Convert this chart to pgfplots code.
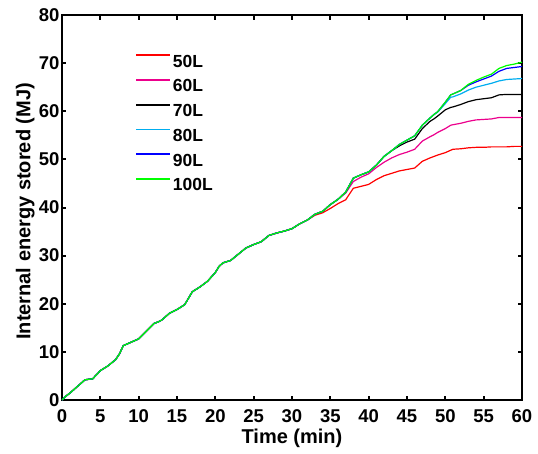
\documentclass[border=0pt]{standalone}
\usepackage{pgfplots}
\usepackage{pgfplotstable}
\pgfplotsset{compat=1.18}
\usepackage{fontspec}
\setmainfont{Liberation Sans}
\pgfplotstableread{
t r m k c b g
0 0 0 0 0 0 0
0.5 0.8 0.8 0.8 0.8 0.8 0.8
1 1.4 1.4 1.4 1.4 1.4 1.4
2 2.8 2.8 2.8 2.8 2.8 2.8
3 4.2 4.2 4.2 4.2 4.2 4.2
4 4.4 4.4 4.4 4.4 4.4 4.4
5 6.1 6.1 6.1 6.1 6.1 6.1
6 7.1 7.1 7.1 7.1 7.1 7.1
7 8.4 8.4 8.4 8.4 8.4 8.4
7.5 9.6 9.6 9.6 9.6 9.6 9.6
8 11.3 11.3 11.3 11.3 11.3 11.3
9 12.0 12.0 12.0 12.0 12.0 12.0
10 12.7 12.7 12.7 12.7 12.7 12.7
11 14.3 14.3 14.3 14.3 14.3 14.3
12 15.9 15.9 15.9 15.9 15.9 15.9
12.5 16.2 16.2 16.2 16.2 16.2 16.2
13 16.6 16.6 16.6 16.6 16.6 16.6
14 18.0 18.0 18.0 18.0 18.0 18.0
15 18.8 18.8 18.8 18.8 18.8 18.8
16 19.8 19.8 19.8 19.8 19.8 19.8
17 22.5 22.5 22.5 22.5 22.5 22.5
18 23.5 23.5 23.5 23.5 23.5 23.5
19 24.7 24.7 24.7 24.7 24.7 24.7
20 26.5 26.5 26.5 26.5 26.5 26.5
20.5 27.8 27.8 27.8 27.8 27.8 27.8
21 28.5 28.5 28.5 28.5 28.5 28.5
22 29.0 29.0 29.0 29.0 29.0 29.0
23 30.3 30.3 30.3 30.3 30.3 30.3
24 31.6 31.6 31.6 31.6 31.6 31.6
25 32.3 32.3 32.3 32.3 32.3 32.3
26 32.9 32.9 32.9 32.9 32.9 32.9
27 34.2 34.2 34.2 34.2 34.2 34.2
28 34.7 34.7 34.7 34.7 34.7 34.7
29 35.1 35.1 35.1 35.1 35.1 35.1
30 35.6 35.6 35.6 35.6 35.6 35.6
31 36.6 36.6 36.6 36.6 36.6 36.6
32 37.4 37.4 37.4 37.4 37.4 37.4
33 38.4 38.6 38.6 38.6 38.6 38.6
34 38.9 39.2 39.2 39.2 39.2 39.2
35 39.8 40.6 40.6 40.6 40.6 40.6
36 40.8 41.7 41.7 41.7 41.7 41.7
37 41.6 43.0 43.2 43.2 43.2 43.2
38 44.0 45.4 46.1 46.1 46.1 46.1
39 44.4 46.3 46.8 46.8 46.8 46.8
40 44.8 47.0 47.4 47.4 47.4 47.4
41 45.8 48.3 48.8 48.8 48.8 48.8
42 46.6 49.4 50.6 50.6 50.6 50.6
43 47.1 50.3 51.8 51.8 51.8 51.8
44 47.6 51.0 52.8 53.1 53.1 53.1
45 47.9 51.5 53.6 54.0 54.0 54.0
46 48.2 52.1 54.2 54.9 54.9 54.9
47 49.6 53.8 56.4 57.1 57.1 57.1
48 50.3 54.7 57.9 58.6 58.6 58.6
48.5 50.6 55.1 58.4 59.3 59.3 59.3
49 50.9 55.6 59.0 59.8 59.9 59.9
50 51.4 56.4 60.3 61.6 61.9 61.9
50.7 51.9 57.1 60.8 62.9 63.4 63.4
51 52.1 57.2 60.9 63.0 63.6 63.6
52 52.2 57.5 61.4 63.6 64.3 64.3
53 52.4 57.9 62.0 64.4 65.4 65.6
54 52.5 58.2 62.4 65.0 66.1 66.4
55 52.5 58.3 62.6 65.4 66.7 67.1
56 52.6 58.4 62.8 65.8 67.3 67.7
57 52.6 58.7 63.4 66.3 68.3 68.9
58 52.6 58.7 63.5 66.6 68.9 69.5
59 52.7 58.7 63.5 66.7 69.1 69.8
60 52.7 58.7 63.5 66.8 69.3 70.2
}\datatable
\begin{document}
\begin{tikzpicture}
\begin{axis}[
  scale only axis,
  width=460pt, height=385pt,
  xmin=0, xmax=60, ymin=0, ymax=80,
  xtick={0,5,...,60}, ytick={0,10,...,80},
  axis line style={line width=2.2pt},
  major tick style={line width=2pt, black},
  major tick length=4.5pt,
  tick align=inside,
  /pgf/number format/assume math mode=true,
  tick label style={font=\fontsize{18.5}{20}\selectfont\bfseries},
  xticklabel style={yshift=-6pt},
  yticklabel style={xshift=1pt},
  xlabel={Time (min)},
  ylabel={Internal energy stored (MJ)},
  label style={font=\fontsize{20}{22}\selectfont\bfseries},
  xlabel style={at={(axis description cs:0.5,-0.099)}, anchor=center},
  ylabel style={at={(axis description cs:-0.08,0.49)}, anchor=center},
  legend style={draw=none, fill=none, at={(axis description cs:0.159,0.902)}, anchor=north west,
    font=\fontsize{17.5}{20}\selectfont\bfseries, row sep=7pt, inner sep=0pt},
  legend cell align=left,
  legend image code/.code={\draw[#1, line width=1.6pt, line cap=butt] (0pt,6.5pt) -- (34pt,6.5pt);},
]
\addplot[red, line width=1.2pt] table[x=t,y=r]{\datatable};
\addlegendentry{50L}
\addplot[magenta, line width=1.2pt] table[x=t,y=m]{\datatable};
\addlegendentry{60L}
\addplot[black, line width=1.2pt] table[x=t,y=k]{\datatable};
\addlegendentry{70L}
\addplot[cyan, line width=1.2pt] table[x=t,y=c]{\datatable};
\addlegendentry{80L}
\addplot[blue, line width=1.2pt] table[x=t,y=b]{\datatable};
\addlegendentry{90L}
\addplot[green, line width=1.2pt] table[x=t,y=g]{\datatable};
\addlegendentry{100L}
\end{axis}
\path ([shift={(-62pt,-53pt)}]current axis.south west) rectangle ([shift={(16pt,15pt)}]current axis.north east);
\end{tikzpicture}
\end{document}
